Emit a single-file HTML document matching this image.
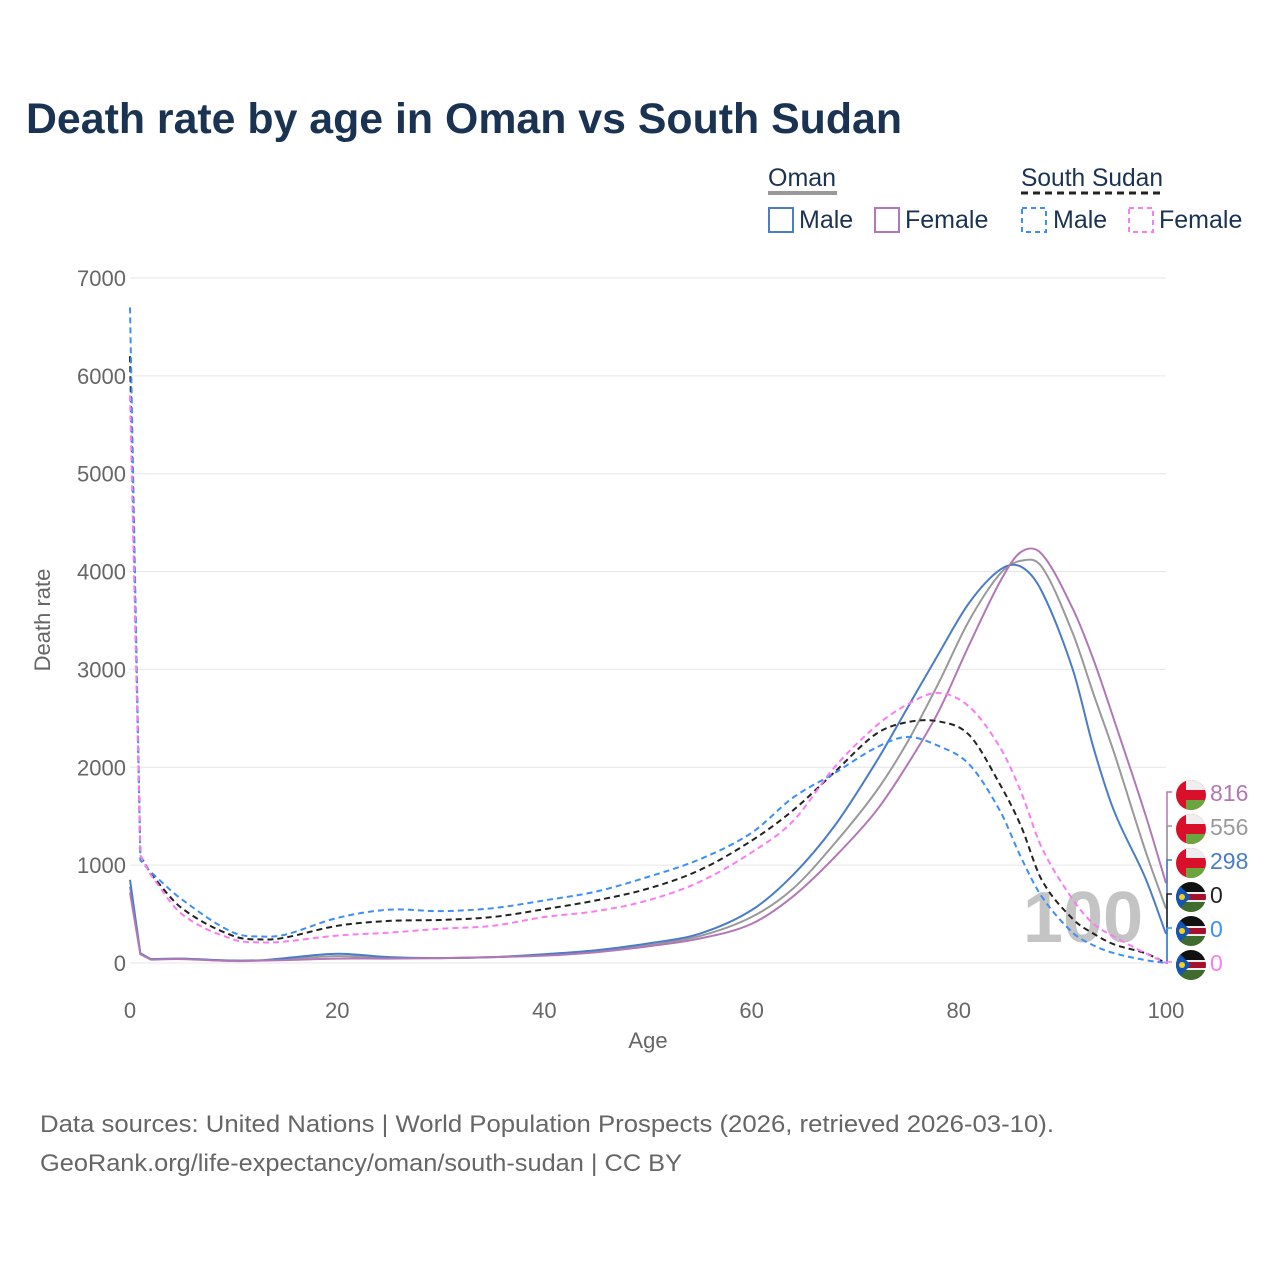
<!DOCTYPE html>
<html><head><meta charset="utf-8"><style>
body{margin:0;background:#fff;font-family:"Liberation Sans",sans-serif;}
#wrap{position:relative;width:1280px;height:1280px;overflow:hidden;}
</style></head><body>
<div id="wrap">
<svg id="svg" width="1280" height="1280" xmlns="http://www.w3.org/2000/svg">
<text x="26" y="133" font-size="43" font-weight="bold" fill="#1b3352" textLength="876" lengthAdjust="spacingAndGlyphs">Death rate by age in Oman vs South Sudan</text>
<g font-size="25" fill="#1b3352">
<text x="768" y="186">Oman</text>
<line x1="768" y1="193" x2="837" y2="193" stroke="#999" stroke-width="4"/>
<text x="1021" y="186" textLength="142" lengthAdjust="spacingAndGlyphs">South Sudan</text>
<line x1="1021" y1="193" x2="1163" y2="193" stroke="#222" stroke-width="3" stroke-dasharray="7,5"/>
<g><rect x="769" y="208" width="24" height="24" fill="none" stroke="#4a7cc9" stroke-width="2"/><text x="799" y="228">Male</text></g>
<g><rect x="875" y="208" width="24" height="24" fill="none" stroke="#b277b5" stroke-width="2"/><text x="905" y="228">Female</text></g>
<g><rect x="1022" y="208" width="24" height="24" fill="none" stroke="#3d8ef7" stroke-width="2" stroke-dasharray="5,4"/><text x="1053" y="228">Male</text></g>
<g><rect x="1129" y="208" width="24" height="24" fill="none" stroke="#fb7cf0" stroke-width="2" stroke-dasharray="5,4"/><text x="1159" y="228">Female</text></g>
</g>
<g id="grid"></g>
<text x="1083" y="942" font-size="72" font-weight="bold" fill="#c4c4c4" text-anchor="middle">100</text>
<g id="lines"></g>
<g id="ends"></g>
<text x="648" y="1048" font-size="22" fill="#666" text-anchor="middle">Age</text>
<text transform="translate(50,620) rotate(-90)" font-size="22" fill="#666" text-anchor="middle">Death rate</text>
<text x="40" y="1132" font-size="24" fill="#666" textLength="1014" lengthAdjust="spacingAndGlyphs">Data sources: United Nations | World Population Prospects (2026, retrieved 2026-03-10).</text>
<text x="40" y="1171" font-size="24" fill="#666" textLength="642" lengthAdjust="spacingAndGlyphs">GeoRank.org/life-expectancy/oman/south-sudan | CC BY</text>
</svg>
</div>
<script>
const ages=[0,1,2,5,10,13,15,20,25,30,35,40,45,50,55,60,64,68,72,75,78,81,84,86,88,91,93,95,98,100];
const omanMale=[850,100,40,45,25,30,50,95,60,50,60,90,130,200,300,540,900,1400,2050,2600,3150,3680,4020,4050,3800,3000,2200,1550,870,298];
const omanFemale=[720,90,35,40,20,25,30,45,45,50,60,75,110,170,250,400,680,1080,1550,2020,2560,3250,3900,4200,4180,3620,3100,2480,1520,816];
const omanBoth=[780,95,38,43,22,27,40,70,52,50,60,82,120,185,275,470,760,1220,1750,2250,2850,3500,3980,4110,4050,3370,2750,2145,1150,556];
const ssMale=[6700,1050,930,650,310,270,290,460,545,530,560,640,730,880,1060,1330,1690,1940,2200,2310,2220,2030,1550,1080,680,310,180,100,30,0];
const ssFemale=[5800,1100,900,500,240,210,220,280,310,350,380,470,530,640,830,1130,1450,2000,2420,2640,2760,2620,2200,1750,1180,650,400,270,100,0];
const ssBoth=[6200,1100,910,560,275,240,260,380,430,440,470,550,640,760,950,1250,1560,1950,2340,2460,2470,2330,1820,1400,850,450,300,190,100,0];
const yTicks=[0,1000,2000,3000,4000,5000,6000,7000];
const xTicks=[0,20,40,60,80,100];
const endLabels=["816","556","298","0","0","0"];
const NS="http://www.w3.org/2000/svg";
const X=a=>130+a*10.36, Y=v=>963-v*0.09786;
function mk(t,at,p){const e=document.createElementNS(NS,t);for(const k in at)e.setAttribute(k,at[k]);p.appendChild(e);return e;}
const grid=document.getElementById('grid');
yTicks.forEach(v=>{const l=mk('line',{x1:130,x2:1166,y1:Y(v),y2:Y(v),stroke:'#e6e6e6','stroke-width':1},grid);


const t=mk('text',{x:126,y:Y(v)+8,'font-size':22,fill:'#666','text-anchor':'end'},grid);t.textContent=v;

});
xTicks.forEach(v=>{const t=mk('text',{x:X(v),y:1018,'font-size':22,fill:'#666','text-anchor':'middle'},grid);t.textContent=v;

});
function path(vals){const p=ages.map((a,i)=>[X(a),Y(vals[i])]);const n=p.length;
const m=p.map((q,i)=>{if(i<=2)return (p[i+1][1]-q[1])/(p[i+1][0]-q[0]);if(i==n-1)return (q[1]-p[i-1][1])/(q[0]-p[i-1][0]);
return (p[i+1][1]-p[i-1][1])/(p[i+1][0]-p[i-1][0]);});
let d='M'+p[0][0]+','+p[0][1];
for(let i=0;i<n-1;i++){const p1=p[i],p2=p[i+1];
if(i<2){d+=' L'+p2[0]+','+p2[1];continue;}
const dx=(p2[0]-p1[0])/3;
d+=` C${p1[0]+dx},${p1[1]+m[i]*dx} ${p2[0]-dx},${p2[1]-m[i+1]*dx} ${p2[0]},${p2[1]}`;}return d;}
const lines=document.getElementById('lines');
const series=[[omanBoth,'#999','','line-oman-both'],[omanMale,'#4a7cc9','','line-oman-male'],[omanFemale,'#b277b5','','line-oman-female'],
[ssBoth,'#222','6,4','line-ss-both'],[ssMale,'#3d8ef7','6,4','line-ss-male'],[ssFemale,'#fb7cf0','6,4','line-ss-female']];
series.forEach(s=>{const e=mk('path',{d:path(s[0]),fill:'none',stroke:s[1],'stroke-width':2,'stroke-dasharray':s[2]},lines);

});
const ends=document.getElementById('ends');
const cols=['#b277b5','#999','#4a7cc9','#222','#3d8ef7','#fb7cf0'];
const ends_src=[omanFemale,omanBoth,omanMale,ssBoth,ssMale,ssFemale];
endLabels.forEach((lab,i)=>{const ly=792+i*34;const sy=Y(ends_src[i][ends_src[i].length-1]);
mk('path',{d:`M1166,${sy} L1167,${sy} L1167,${ly} L1172,${ly}`,fill:'none',stroke:cols[i],'stroke-width':1.5},ends);
const g=mk('g',{},ends);


const cx=1191,cy=ly+3;
mk('clipPath',{id:'c'+i},g).appendChild(document.createElementNS(NS,'circle'));
const c=g.querySelector('circle');c.setAttribute('cx',cx);c.setAttribute('cy',cy);c.setAttribute('r',15);
const gg=mk('g',{'clip-path':`url(#c${i})`},g);
if(i<3){mk('rect',{x:cx-15,y:cy-15,width:30,height:30,fill:'#d8102a'},gg);mk('rect',{x:cx-5,y:cy-15,width:20,height:10,fill:'#eee'},gg);mk('rect',{x:cx-5,y:cy+5,width:20,height:10,fill:'#6aa53f'},gg);}
else{mk('rect',{x:cx-15,y:cy-15,width:30,height:10,fill:'#111'},gg);mk('rect',{x:cx-15,y:cy-5,width:30,height:10,fill:'#eee'},gg);mk('rect',{x:cx-15,y:cy-3,width:30,height:6,fill:'#a5102a'},gg);mk('rect',{x:cx-15,y:cy+5,width:30,height:10,fill:'#3f6b2e'},gg);mk('path',{d:`M${cx-15},${cy-15} L${cx},${cy} L${cx-15},${cy+15}Z`,fill:'#1454b3'},gg);mk('circle',{cx:cx-9,cy:cy,r:3,fill:'#f6d11b'},gg);}
const t=mk('text',{x:1210,y:ly+9,'font-size':23,fill:cols[i]},ends);t.textContent=lab;

});
</script>
</body></html>
